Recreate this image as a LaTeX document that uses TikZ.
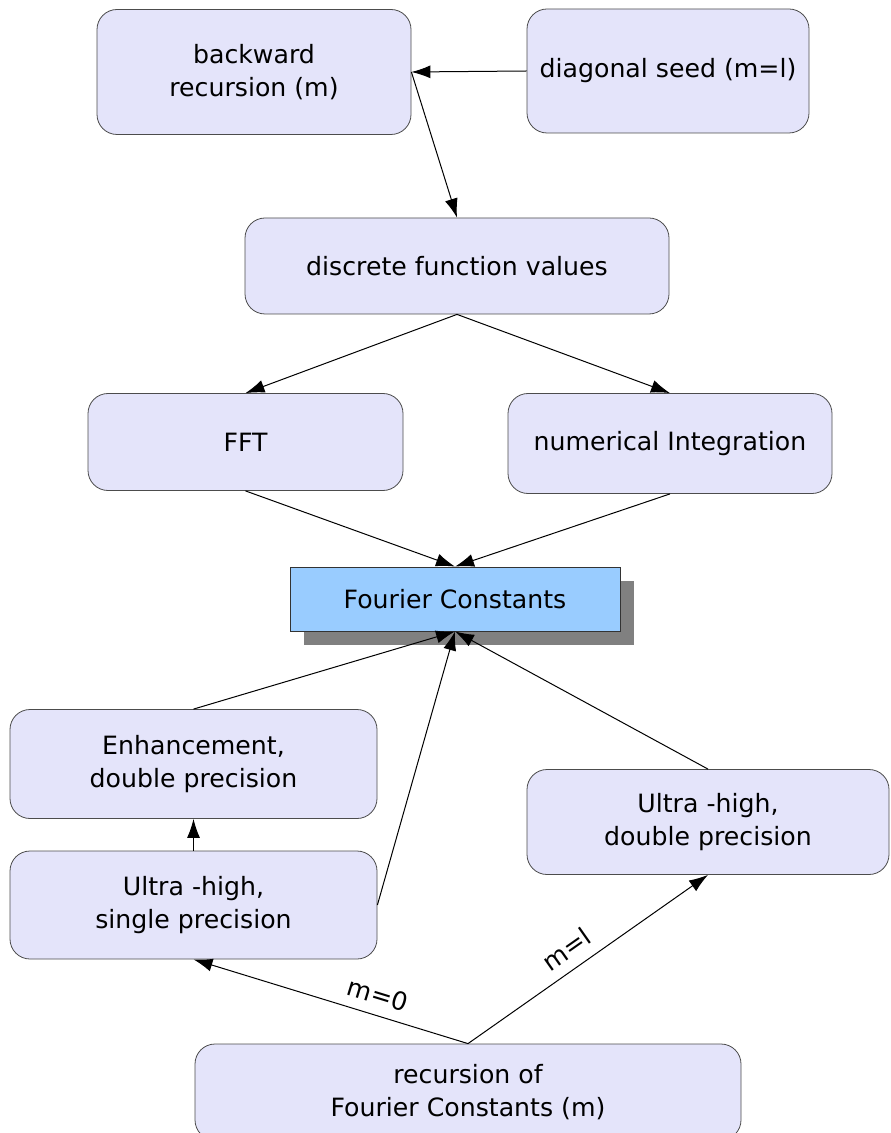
\documentclass[tikz,border=0pt]{standalone}
\usepackage{fontspec}
\setmainfont{DejaVu Sans}
\usetikzlibrary{arrows.meta,shadows}
\definecolor{lavbox}{RGB}{228,228,250}
\definecolor{fcblue}{RGB}{153,204,255}
\tikzset{>={Latex[length=9.5pt,width=6.5pt]}}
\tikzset{
  block/.style={draw=black!70, fill=lavbox, rounded corners=10pt, align=center,
    inner sep=0pt, font=\fontsize{12.6}{16.5}\selectfont},
  mainbox/.style={draw=black!80, fill=fcblue, align=center, inner sep=0pt,
    font=\fontsize{12.6}{16.5}\selectfont,
    drop shadow={shadow xshift=7pt, shadow yshift=-7pt, fill=black!50, opacity=1}},
  flow/.style={draw=black, line width=0.5pt, ->},
  lbl/.style={font=\fontsize{12.6}{15}\selectfont, sloped, above=2pt}
}

\begin{document}
\begin{tikzpicture}[x=0.5pt, y=-0.5pt]
        \useasboundingbox (0,0) rectangle (890,1133);
        \node[block, minimum width=157pt, minimum height=62.5pt] (backrec) at (254,72) {backward\\recursion (m)};
        \node[block, minimum width=141pt, minimum height=62pt] (seed) at (668,71) {diagonal seed (m=l)};
        \node[block, minimum width=212pt, minimum height=48pt] (discrete) at (457,266) {discrete function values};
        \node[block, minimum width=157.5pt, minimum height=48.5pt] (fft) at (245.5,442) {FFT};
        \node[block, minimum width=162pt, minimum height=50pt] (numint) at (670,443.5) {numerical Integration};
        \node[mainbox, minimum width=165pt, minimum height=32pt] (fourier) at (455,599) {Fourier Constants};
        \node[block, minimum width=183.5pt, minimum height=54.5pt] (enhance) at (193.5,764) {Enhancement,\\double precision};
        \node[block, minimum width=183.5pt, minimum height=54pt] (ultrasgl) at (193.5,905) {Ultra -high,\\single precision};
        \node[block, minimum width=181pt, minimum height=52.5pt] (ultradbl) at (708,822) {Ultra -high,\\double precision};
        \node[block, minimum width=273pt, minimum height=48pt] (fcrec) at (468,1092) {recursion of\\Fourier Constants (m)};

        \draw[flow] (seed.west) -- (backrec.east);
        \draw[flow] (backrec.east) -- (discrete.north);
        \draw[flow] (discrete.south) -- (fft.north);
        \draw[flow] (discrete.south) -- (numint.north);
        \draw[flow] (fft.south) -- (fourier.north);
        \draw[flow] (numint.south) -- (fourier.north);
        \draw[flow] (enhance.north) -- (fourier.south);
        \draw[flow] (ultrasgl.east) -- (fourier.south);
        \draw[flow] (ultradbl.north) -- (fourier.south);
        \draw[flow] (ultrasgl.north) -- (enhance.south);
        \draw[flow] (fcrec.north) -- node[lbl, pos=0.35] {m=0} (ultrasgl.south);
        \draw[flow] (fcrec.north) -- node[lbl, pos=0.46] {m=l} (ultradbl.south);
\end{tikzpicture}
\end{document}
